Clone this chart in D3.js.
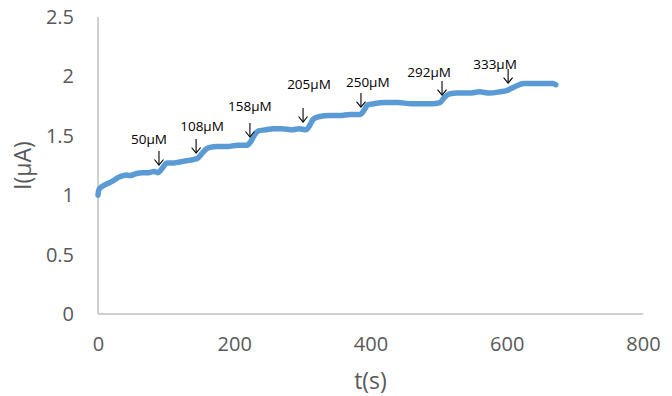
<!DOCTYPE html>
<html>
<head>
<meta charset="utf-8">
<script src="https://cdn.jsdelivr.net/npm/d3@7"></script>
<style>
html,body{margin:0;padding:0;background:#fff;}
svg{display:block;}
</style>
</head>
<body>
<svg id="chart" width="672" height="396"></svg>
<script>
// ---- data ----
const timeS = [0,1,3,8,15,22,30,37,42,47,55,65,75,82,88,92,96,101,110,120,130,140,146,151,157,163,175,190,205,218,224,229,235,245,258,270,285,295,305,310,316,324,340,355,370,385,390,396,405,420,440,460,478,490,502,508,515,527,545,560,575,590,600,607,614,625,640,655,668,672];
const currentUA = [1.00,1.04,1.06,1.08,1.10,1.12,1.15,1.165,1.17,1.165,1.18,1.19,1.19,1.20,1.19,1.21,1.24,1.27,1.27,1.28,1.29,1.30,1.31,1.34,1.38,1.40,1.41,1.41,1.42,1.42,1.45,1.50,1.54,1.55,1.56,1.56,1.55,1.56,1.55,1.58,1.64,1.66,1.67,1.67,1.68,1.68,1.71,1.76,1.77,1.78,1.78,1.77,1.77,1.77,1.78,1.82,1.85,1.86,1.86,1.87,1.86,1.87,1.88,1.90,1.92,1.94,1.94,1.94,1.94,1.93];

const annLabels = ["50μM","108μM","158μM","205μM","250μM","292μM","333μM"];
const annTime   = [89.5,144,223,301,386,505,602];      // arrow x (s)
const annTip    = [1.254,1.355,1.49,1.616,1.742,1.843,1.944]; // arrow tip (µA)
const labelTime = [74.9,152.7,223,309.7,396,486,582.8]; // label centre (s)
const labelI    = [1.431,1.540,1.709,1.894,1.911,1.995,2.062]; // label baseline (µA)

const xTicks = [0,200,400,600,800];
const yTicks = [0,0.5,1,1.5,2,2.5];

// ---- layout ----
const svg = d3.select("#chart");
const x = d3.scaleLinear().domain([0,800]).range([98,643]);
const y = d3.scaleLinear().domain([0,2.5]).range([314,17]);
const axisColor = "#bfbfbf";
const textColor = "#595959";
const font = "'Open Sans', sans-serif";

// axes lines
svg.append("line").attr("x1",x(0)).attr("x2",x(800)).attr("y1",y(0)).attr("y2",y(0))
  .attr("stroke",axisColor).attr("stroke-width",1.5);
svg.append("line").attr("x1",x(0)).attr("x2",x(0)).attr("y1",y(0)).attr("y2",y(2.5))
  .attr("stroke",axisColor).attr("stroke-width",1.5);

const gx = svg.append("g").attr("transform",`translate(0,${y(0)})`)
  .call(d3.axisBottom(x).tickValues(xTicks).tickSize(0).tickPadding(23).tickFormat(d3.format("d")));
gx.select(".domain").remove();
gx.selectAll("text").attr("fill",textColor).style("font-family",font).style("font-size","20px");

const gy = svg.append("g").attr("transform",`translate(${x(0)},0)`)
  .call(d3.axisLeft(y).tickValues(yTicks).tickSize(0).tickPadding(24).tickFormat(d => String(d)));
gy.select(".domain").remove();
gy.selectAll("text").attr("fill",textColor).style("font-family",font).style("font-size","20px");

// axis titles
svg.append("text").attr("x",(x(0)+x(800))/2).attr("y",389).attr("text-anchor","middle")
  .attr("fill",textColor).style("font-family",font).style("font-size","23px").text("t(s)");
svg.append("text").attr("transform",`translate(31,${(y(0)+y(2.5))/2}) rotate(-90)`)
  .attr("text-anchor","middle").attr("fill",textColor).style("font-family",font).style("font-size","23px").text("I(μA)");

// data line
const pts = timeS.map((t,i)=>[t,currentUA[i]]);
svg.append("path").datum(pts)
  .attr("d", d3.line().x(d=>x(d[0])).y(d=>y(d[1])).curve(d3.curveMonotoneX))
  .attr("fill","none").attr("stroke","#5b9bd5").attr("stroke-width",5.5)
  .attr("stroke-linejoin","round").attr("stroke-linecap","round");

// annotations
annLabels.forEach((lab,i)=>{
  const ax = x(annTime[i]), ty = y(annTip[i]);
  const g = svg.append("g").attr("stroke","#000").attr("stroke-width",1.1).attr("fill","none");
  g.append("line").attr("x1",ax).attr("x2",ax).attr("y1",ty-14).attr("y2",ty);
  g.append("path").attr("d",`M${ax-4.5},${ty-5.5}L${ax},${ty}L${ax+4.5},${ty-5.5}`);
  svg.append("text").attr("x",x(labelTime[i])).attr("y",y(labelI[i]))
    .attr("text-anchor","middle").attr("fill","#000")
    .style("font-family",font).style("font-size","13.5px").text(lab);
});
</script>
</body>
</html>
